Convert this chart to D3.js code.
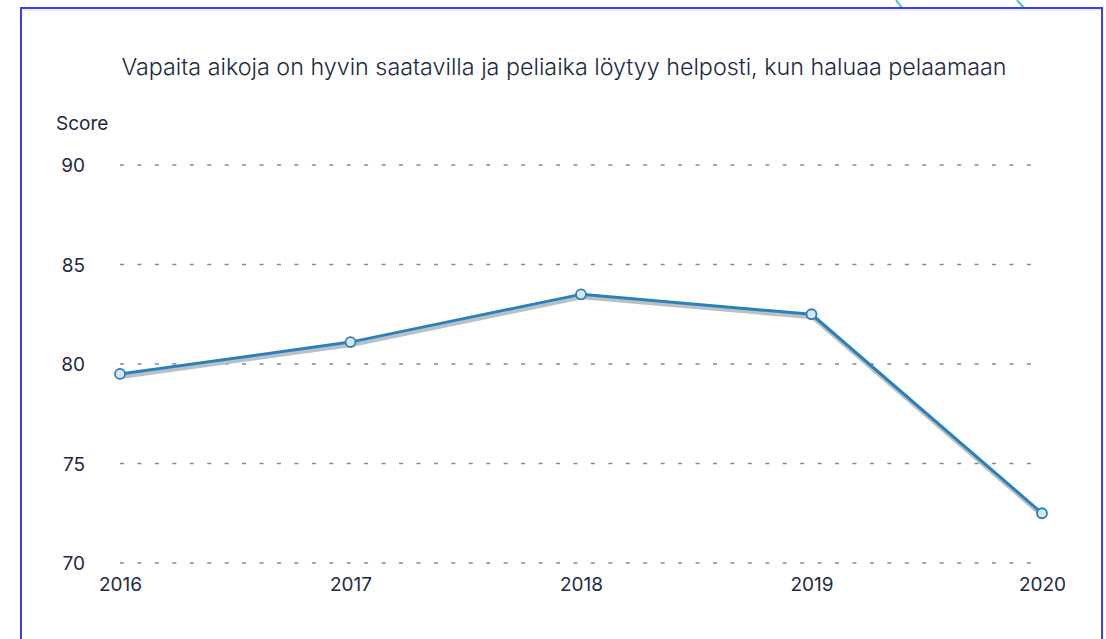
<!DOCTYPE html>
<html><head><meta charset="utf-8">
<script src="https://cdn.jsdelivr.net/npm/d3@7"></script>
<style>
html,body{margin:0;padding:0;background:#fff;}
svg{display:block;font-family:Inter, "Noto Sans", sans-serif;}
</style></head>
<body><svg id="c" width="1106" height="639"></svg>
<script>
const years = ["2016","2017","2018","2019","2020"];
const scores = [79.5, 81.1, 83.5, 82.5, 72.5];
const yTicks = [70, 75, 80, 85, 90];
const title = "Vapaita aikoja on hyvin saatavilla ja peliaika löytyy helposti, kun haluaa pelaamaan";
const yLabel = "Score";

const svg = d3.select("#c");
const textColor = "#1c2a43";

// decorative teal strokes above frame
svg.append("path").attr("d","M896,0 L902,8").attr("stroke","#3fcfa6").attr("stroke-width",2).attr("fill","none");
svg.append("path").attr("d","M1017,0 L1024,8").attr("stroke","#3fcfa6").attr("stroke-width",2).attr("fill","none");

// frame
svg.append("rect").attr("x",21).attr("y",8).attr("width",1081).attr("height",640)
  .attr("fill","#fff").attr("stroke","#3a3ef0").attr("stroke-width",2);
svg.append("line").attr("x1",22).attr("x2",1101).attr("y1",10).attr("y2",10).attr("stroke","#eef0f4").attr("stroke-width",2);

const x = d3.scalePoint().domain(years).range([120,1042]);
const y = d3.scaleLinear().domain([70,90]).range([563,165]);

// title
svg.append("text").attr("x",564).attr("y",75).attr("text-anchor","middle")
  .attr("font-size",23.3).attr("font-weight",300).attr("fill",textColor).text(title);
svg.append("text").attr("x",56).attr("y",130).attr("font-size",19).attr("fill",textColor).text(yLabel);

// grid
const gridG = svg.append("g");
gridG.selectAll("line").data(yTicks).join("line")
  .attr("x1",120).attr("x2",1033).attr("y1",d=>y(d)).attr("y2",d=>y(d))
  .attr("stroke","#7b8ca5").attr("stroke-width",1.6).attr("stroke-dasharray","4 13.44");

// y axis labels
const yAxis = d3.axisLeft(y).tickValues(yTicks).tickSize(0).tickPadding(0);
const ya = svg.append("g").attr("transform","translate(85,0)").call(yAxis);
ya.select(".domain").remove();
ya.selectAll("text").attr("font-size",19).attr("fill",textColor).attr("font-family","Inter, 'Noto Sans', sans-serif").attr("dy","0.35em");

// x axis labels
const xAxis = d3.axisBottom(x).tickSize(0).tickPadding(0);
const xa = svg.append("g").attr("transform","translate(0,577)").call(xAxis);
xa.select(".domain").remove();
xa.selectAll("text").attr("font-size",19).attr("fill",textColor).attr("font-family","Inter, 'Noto Sans', sans-serif");

const line = d3.line().x((d,i)=>x(years[i])).y(d=>y(d));
// shadow
svg.append("path").datum(scores).attr("d",line).attr("transform","translate(1,3)")
  .attr("fill","none").attr("stroke","#b9c0c6").attr("stroke-width",4).attr("stroke-linejoin","round");
svg.append("path").datum(scores).attr("d",line)
  .attr("fill","none").attr("stroke","#2a80b9").attr("stroke-width",3).attr("stroke-linejoin","round");

svg.selectAll("circle.pt").data(scores).join("circle").attr("class","pt")
  .attr("cx",(d,i)=>x(years[i])).attr("cy",d=>y(d)).attr("r",5)
  .attr("fill","#d6e6f3").attr("stroke","#2a80b9").attr("stroke-width",1.8);
</script></body></html>
